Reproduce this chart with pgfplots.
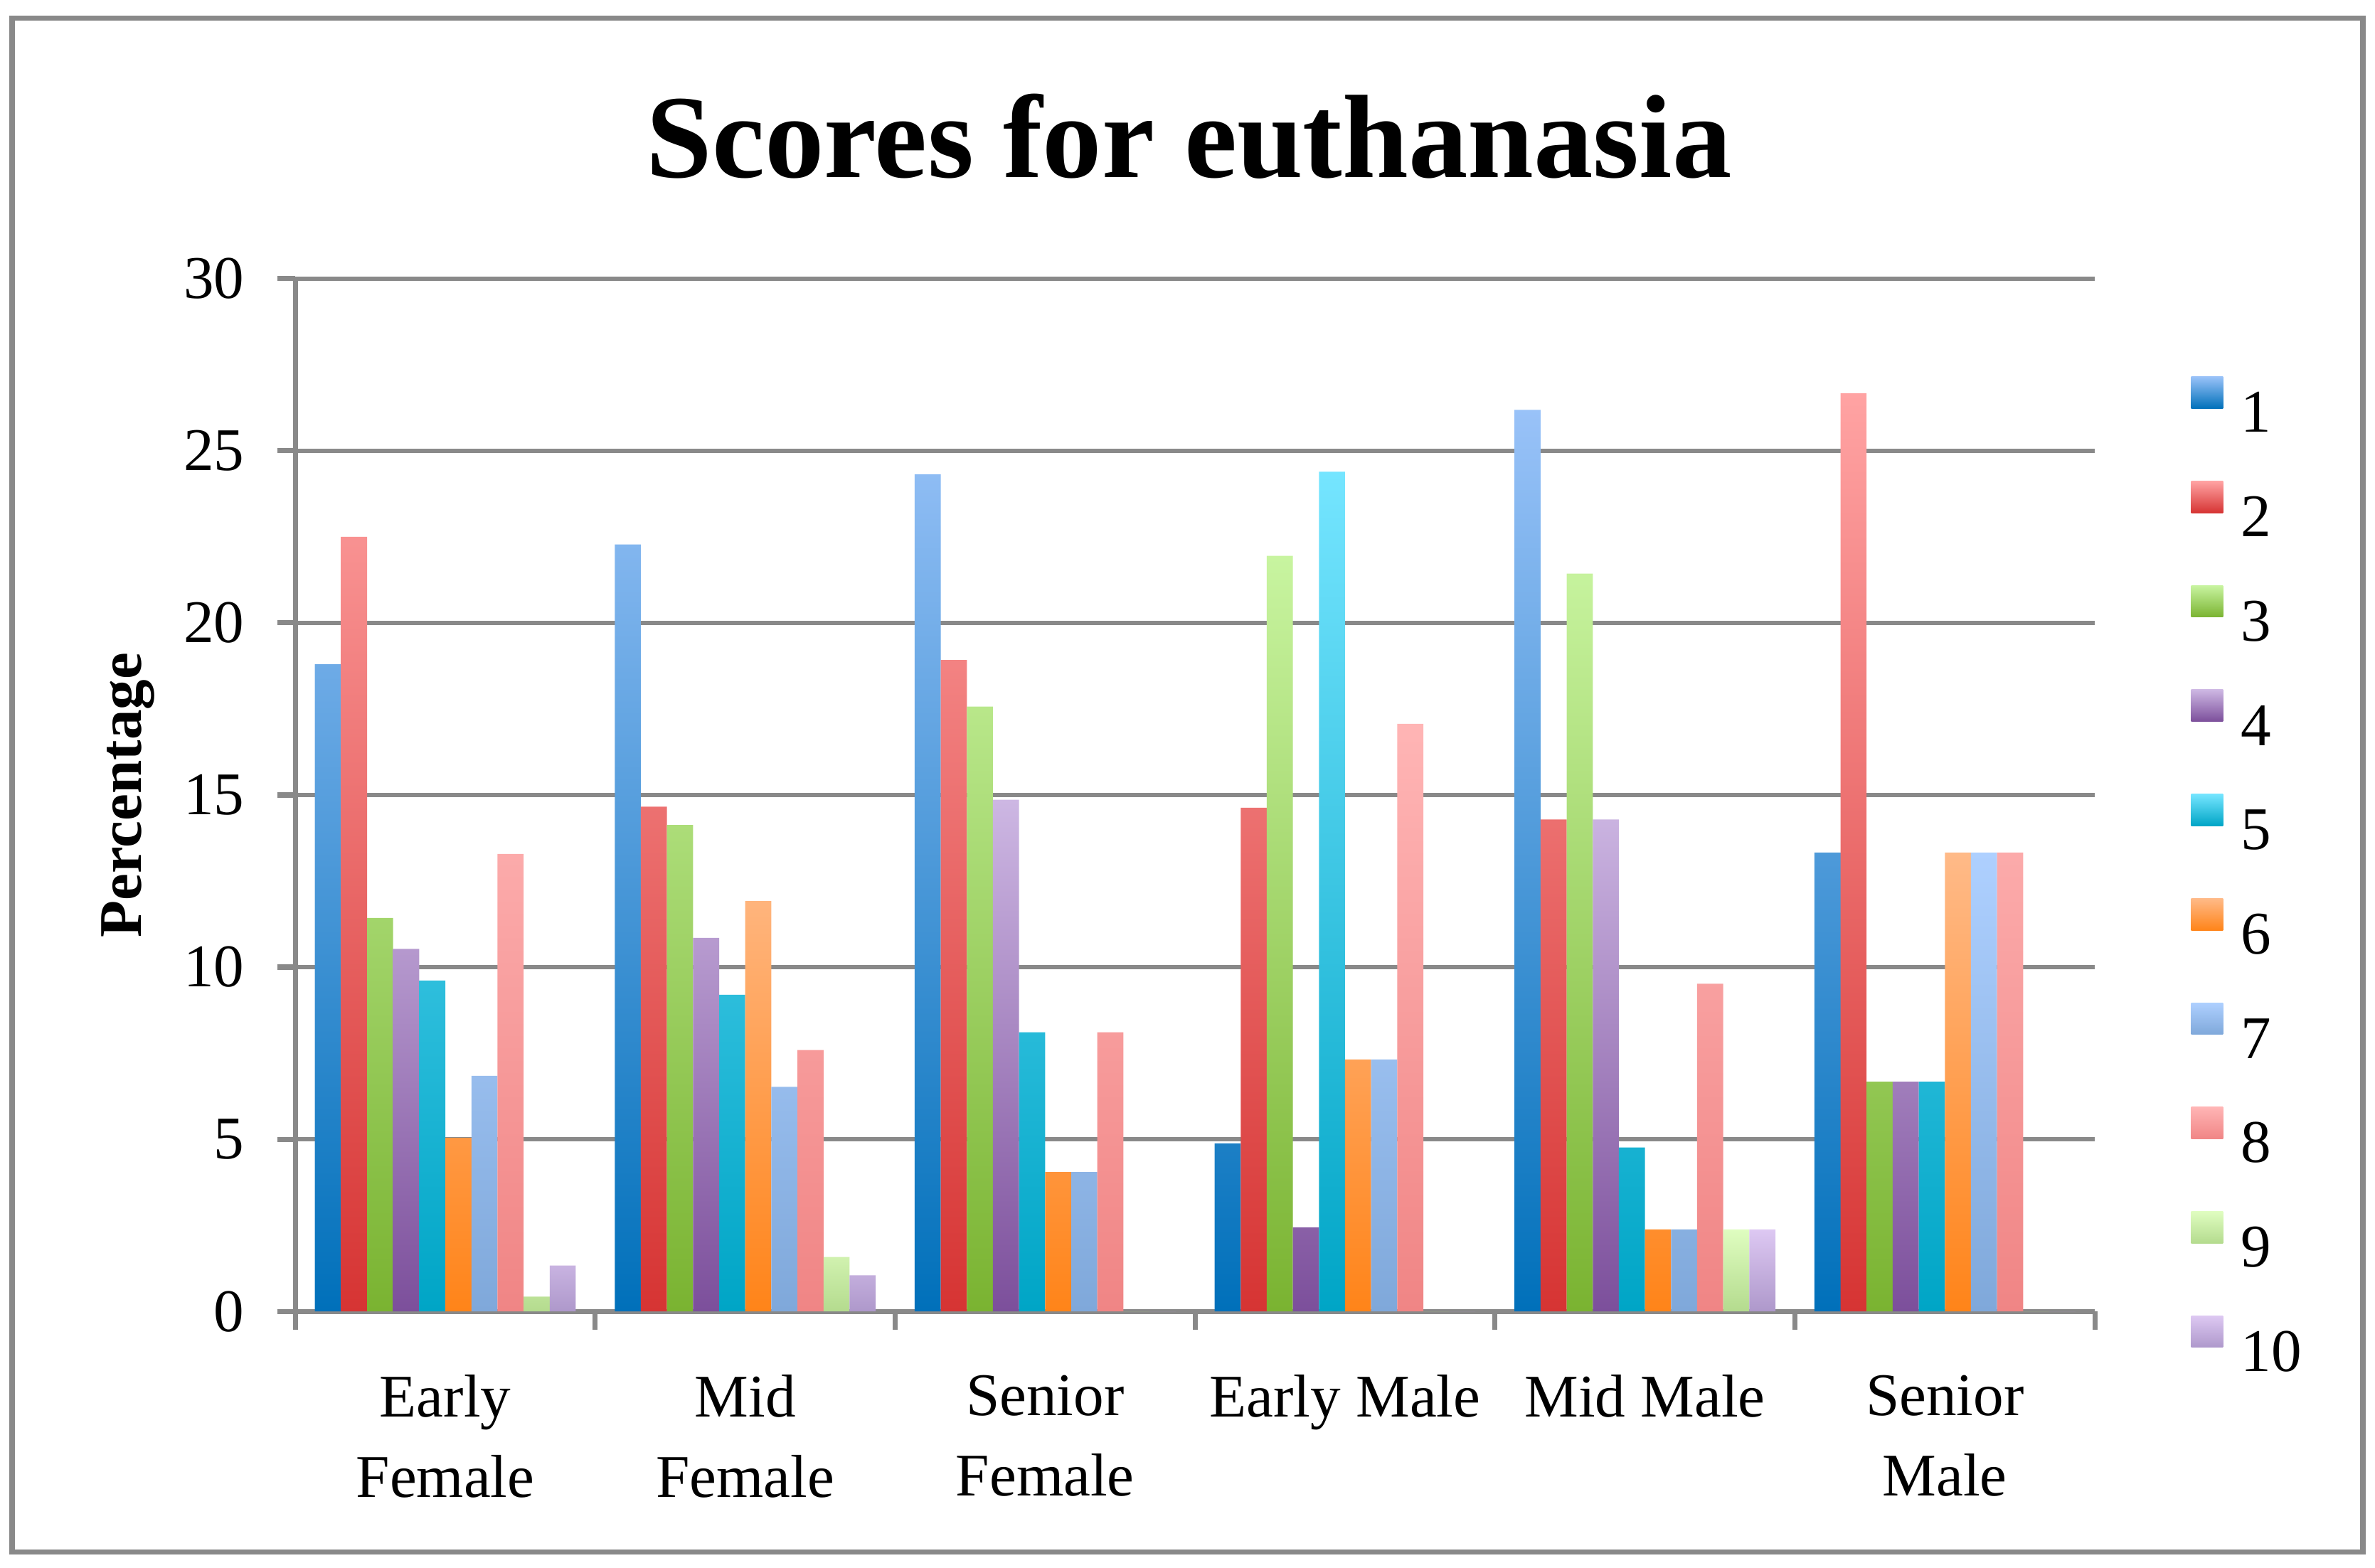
\documentclass[border=0pt]{standalone}
\usepackage{fontspec}
\setmainfont{Liberation Serif}
\usepackage{pgfplots}
\pgfplotsset{compat=1.18}
\definecolor{axgray}{HTML}{898989}
\definecolor{c1b}{HTML}{0070BA}\definecolor{c1t}{HTML}{99C2F8}
\definecolor{c2b}{HTML}{D63433}\definecolor{c2t}{HTML}{FFA3A3}
\definecolor{c3b}{HTML}{7AB331}\definecolor{c3t}{HTML}{C8F4A0}
\definecolor{c4b}{HTML}{7C4F9B}\definecolor{c4t}{HTML}{CDB7E3}
\definecolor{c5b}{HTML}{00A5C6}\definecolor{c5t}{HTML}{75E5FF}
\definecolor{c6b}{HTML}{FF8419}\definecolor{c6t}{HTML}{FFBA88}
\definecolor{c7b}{HTML}{7FA8DA}\definecolor{c7t}{HTML}{AED0FF}
\definecolor{c8b}{HTML}{F08585}\definecolor{c8t}{HTML}{FFB5B5}
\definecolor{c9b}{HTML}{B4DB8E}\definecolor{c9t}{HTML}{DFFDC0}
\definecolor{c10b}{HTML}{AE98CB}\definecolor{c10t}{HTML}{DDC8F2}
\newcommand{\lblfont}{\fontsize{12}{15.9}\selectfont}
\pgfplotsset{grad/.style={draw=none, bottom color=#1b, middle color=#1t!60!#1b, top color=#1t}}
\begin{document}
\begin{tikzpicture}
\useasboundingbox (0,0) rectangle (470.4pt,310.5pt);
\draw[axgray, line width=1pt] (2.4pt,3pt) rectangle (468pt,306.9pt);
\node[anchor=base, font=\fontsize{23.5}{28}\selectfont\bfseries] at (235.5pt,275.4pt) {Scores for euthanasia};
\begin{axis}[
  at={(58.5pt,50.7pt)}, anchor=south west,
  scale only axis, width=356.4pt, height=204.6pt,
  xmin=-0.5, xmax=5.5, ymin=0, ymax=30,
  axis lines*=left,
  axis line style={axgray, line width=1pt},
  ymajorgrids, grid style={axgray, line width=0.8pt},
  ytick={0,5,...,30},
  xtick={0,...,5},
  xticklabels={{Early\\Female},{Mid\\Female},{Senior\\Female},{Early Male},{Mid Male},{Senior\\Male}},
  minor xtick={-0.5,0.5,...,5.5},
  tick align=outside,
  major tick length=3.6pt, minor tick length=3.6pt,
  tick style={axgray, line width=1pt},
  major x tick style={draw=none},
  /pgf/number format/assume math mode=true,
  yticklabel style={font=\lblfont, xshift=-3pt},
  xticklabel style={font=\lblfont, align=center, yshift=-5.5pt},
  ylabel={Percentage},
  ylabel style={font=\lblfont\bfseries, at={(axis description cs:-0.093,0.5)}, anchor=center},
  ybar=0pt, bar width=0.087,
  legend style={at={(1.053,0.906)}, anchor=north west, draw=none, fill=none,
    inner sep=0pt, row sep=9.67pt, column sep=3.6pt, font=\lblfont,
    nodes={inner sep=0pt, text height=8.2pt, text depth=0pt}},
  legend cell align=left,
  legend image code/.code={\draw[#1, draw=none] (0pt,0.6pt) rectangle (6.3pt,6.9pt);},
]
\addplot[grad=c1] coordinates {(0,18.80) (1,22.28) (2,24.32) (3,4.88) (4,26.19) (5,13.33)};
\addplot[grad=c2] coordinates {(0,22.50) (1,14.66) (2,18.92) (3,14.63) (4,14.29) (5,26.67)};
\addplot[grad=c3] coordinates {(0,11.43) (1,14.13) (2,17.57) (3,21.95) (4,21.43) (5,6.67)};
\addplot[grad=c4] coordinates {(0,10.53) (1,10.85) (2,14.86) (3,2.44) (4,14.29) (5,6.67)};
\addplot[grad=c5] coordinates {(0,9.61) (1,9.20) (2,8.11) (3,24.39) (4,4.76) (5,6.67)};
\addplot[grad=c6] coordinates {(0,5.04) (1,11.92) (2,4.05) (3,7.32) (4,2.38) (5,13.33)};
\addplot[grad=c7] coordinates {(0,6.84) (1,6.52) (2,4.05) (3,7.32) (4,2.38) (5,13.33)};
\addplot[grad=c8] coordinates {(0,13.29) (1,7.59) (2,8.11) (3,17.07) (4,9.52) (5,13.33)};
\addplot[grad=c9] coordinates {(0,0.43) (1,1.58) (2,0) (3,0) (4,2.38) (5,0)};
\addplot[grad=c10] coordinates {(0,1.33) (1,1.05) (2,0) (3,0) (4,2.38) (5,0)};
\legend{1,2,3,4,5,6,7,8,9,10}
\end{axis}
\end{tikzpicture}
\end{document}
